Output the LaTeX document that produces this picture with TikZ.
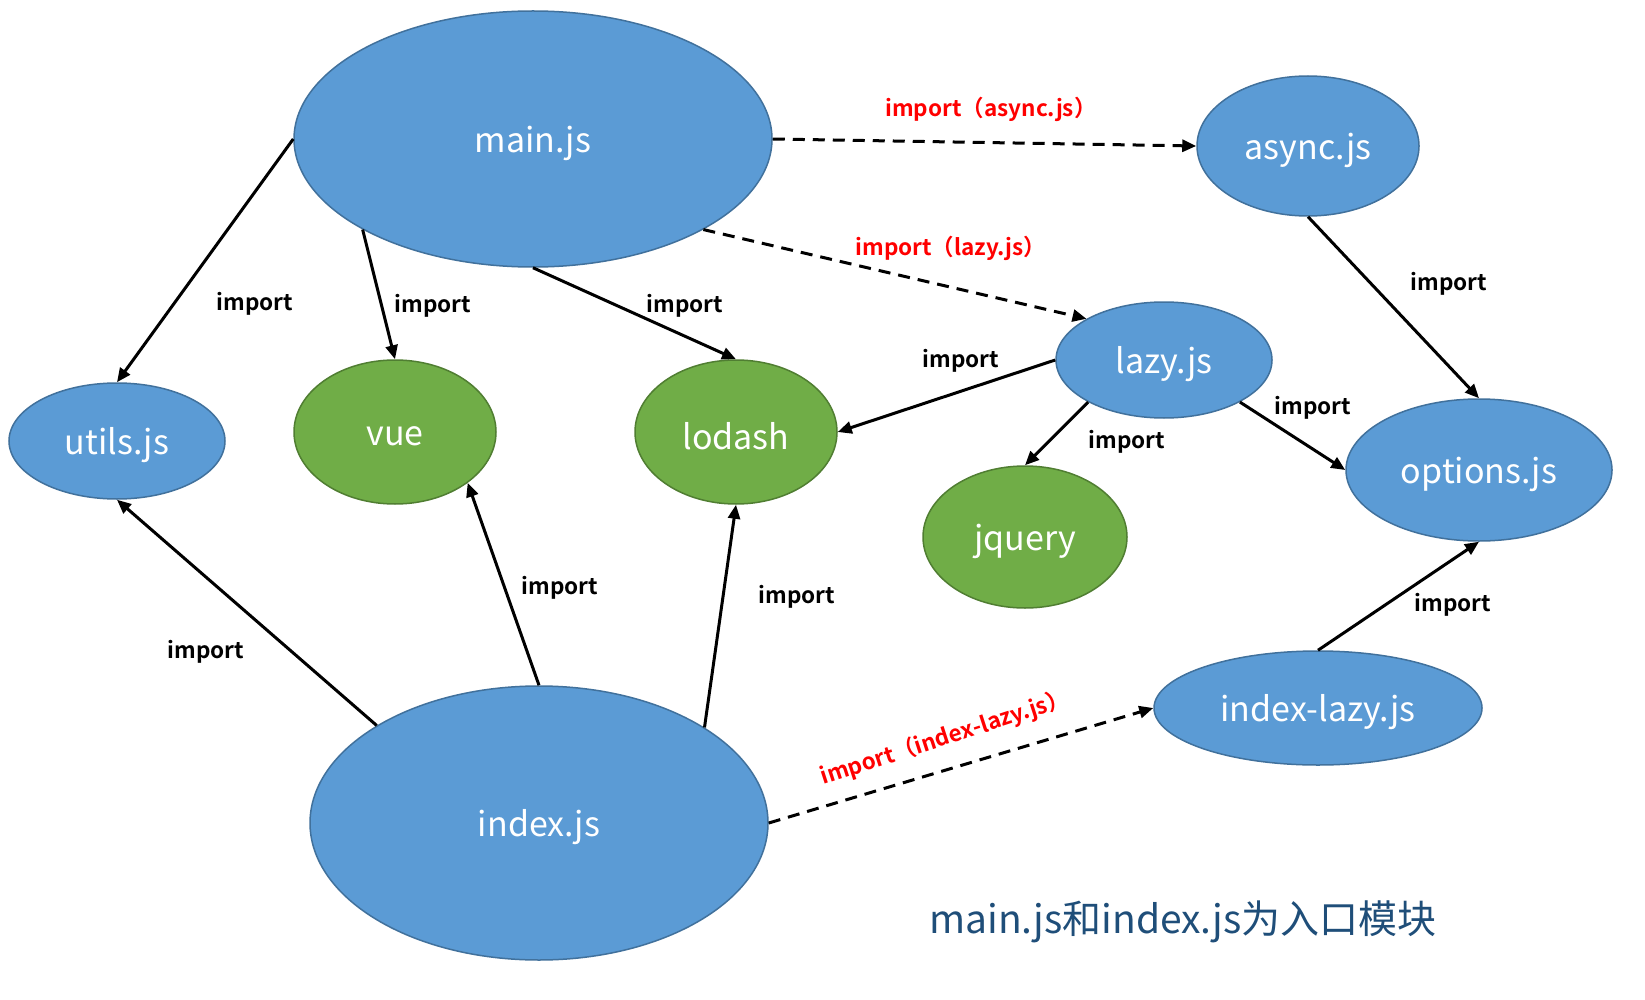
\documentclass[tikz,border=0pt]{standalone}
\usepackage{fontspec}
\setmainfont{Noto Sans CJK SC}[BoldFont={Noto Sans CJK SC Bold}]
\usetikzlibrary{shapes.geometric,arrows.meta}
\definecolor{bfill}{HTML}{5B9BD5}
\definecolor{bstroke}{HTML}{41719C}
\definecolor{gfill}{HTML}{70AD47}
\definecolor{gstroke}{HTML}{507E32}
\definecolor{titleblue}{HTML}{1F4E79}
\definecolor{lblred}{HTML}{FF0000}
\newcommand{\ntxt}[1]{\raisebox{-4pt}[\height][\depth]{#1}}
\begin{document}
\begin{tikzpicture}[x=1pt,y=-1pt,
  bnode/.style={ellipse,draw=bstroke,fill=bfill,line width=1.5pt,inner sep=0pt,text=white,font=\fontsize{34}{40}\selectfont},
  gnode/.style={bnode,draw=gstroke,fill=gfill},
  lbl/.style={font=\bfseries\fontsize{22.5}{26}\selectfont,text=black,inner sep=1pt},
  rlbl/.style={lbl,text=lblred},
  conn/.style={line width=3pt,-{Triangle[length=14pt,width=12pt]}},
  dconn/.style={conn,dash pattern=on 12pt off 8pt}]
\useasboundingbox (0,0) rectangle (1645,1000);
\fill[white] (0,0) rectangle (1645,1000);

\node[bnode,minimum width=478pt,minimum height=256pt] (main) at (533,139) {\ntxt{main.js}};
\node[bnode,minimum width=222pt,minimum height=140pt] (async) at (1308,146) {\ntxt{async.js}};
\node[bnode,minimum width=216pt,minimum height=116pt] (utils) at (117,441) {\ntxt{utils.js}};
\node[gnode,minimum width=202pt,minimum height=144pt] (vue) at (395,432) {\ntxt{vue}};
\node[gnode,minimum width=202pt,minimum height=144pt] (lodash) at (736,432) {\ntxt{lodash}};
\node[gnode,minimum width=204pt,minimum height=142pt] (jquery) at (1025,537) {\ntxt{jquery}};
\node[bnode,minimum width=216pt,minimum height=116pt] (lazy) at (1164,360) {\ntxt{lazy.js}};
\node[bnode,minimum width=266pt,minimum height=142pt] (options) at (1479,470) {\ntxt{options.js}};
\node[bnode,minimum width=328pt,minimum height=114pt] (ilazy) at (1318,708) {\ntxt{index-lazy.js}};
\node[bnode,minimum width=458pt,minimum height=274pt] (index) at (539,823) {\ntxt{index.js}};

\draw[conn] (main.west) -- (utils.north);
\draw[conn] (main.208.6) -- (vue.north);
\draw[conn] (main.south) -- (lodash.north);
\draw[dconn] (main.east) -- (async.west);
\draw[dconn] (main.-28.7) -- (lazy.152);
\draw[conn] (async.south) -- (options.north);
\draw[conn] (lazy.west) -- (lodash.east);
\draw[conn] (lazy.209.8) -- (jquery.north);
\draw[conn] (lazy.-29.2) -- (options.west);
\draw[conn] (ilazy.north) -- (options.south);
\draw[conn] (index.149.1) -- (utils.south);
\draw[conn] (index.north) -- (vue.-35);
\draw[conn] (index.30.9) -- (lodash.south);
\draw[dconn] (index.east) -- (ilazy.west);

\node[lbl] (l1) at (255,304) {import};
\node[lbl] (l2) at (433,306) {import};
\node[lbl] (l3) at (685,306) {import};
\node[rlbl] (l4) at (991,109) {import（async.js）};
\node[rlbl] (l5) at (951,248) {import（lazy.js）};
\node[lbl] (l6) at (1449,284) {import};
\node[lbl] (l7) at (961,361) {import};
\node[lbl] (l8) at (1313,408) {import};
\node[lbl] (l9) at (1127,442) {import};
\node[lbl] (l10) at (560,588) {import};
\node[lbl] (l11) at (797,597) {import};
\node[lbl] (l12) at (206,652) {import};
\node[lbl] (l13) at (1453,605) {import};
\node[rlbl,rotate=18] (l14) at (945,738) {import（index-lazy.js）};

\node[font=\fontsize{39}{45}\selectfont,text=titleblue,anchor=west,inner sep=0pt] (title) at (929,922) {main.js和index.js为入口模块};
\end{tikzpicture}
\end{document}
